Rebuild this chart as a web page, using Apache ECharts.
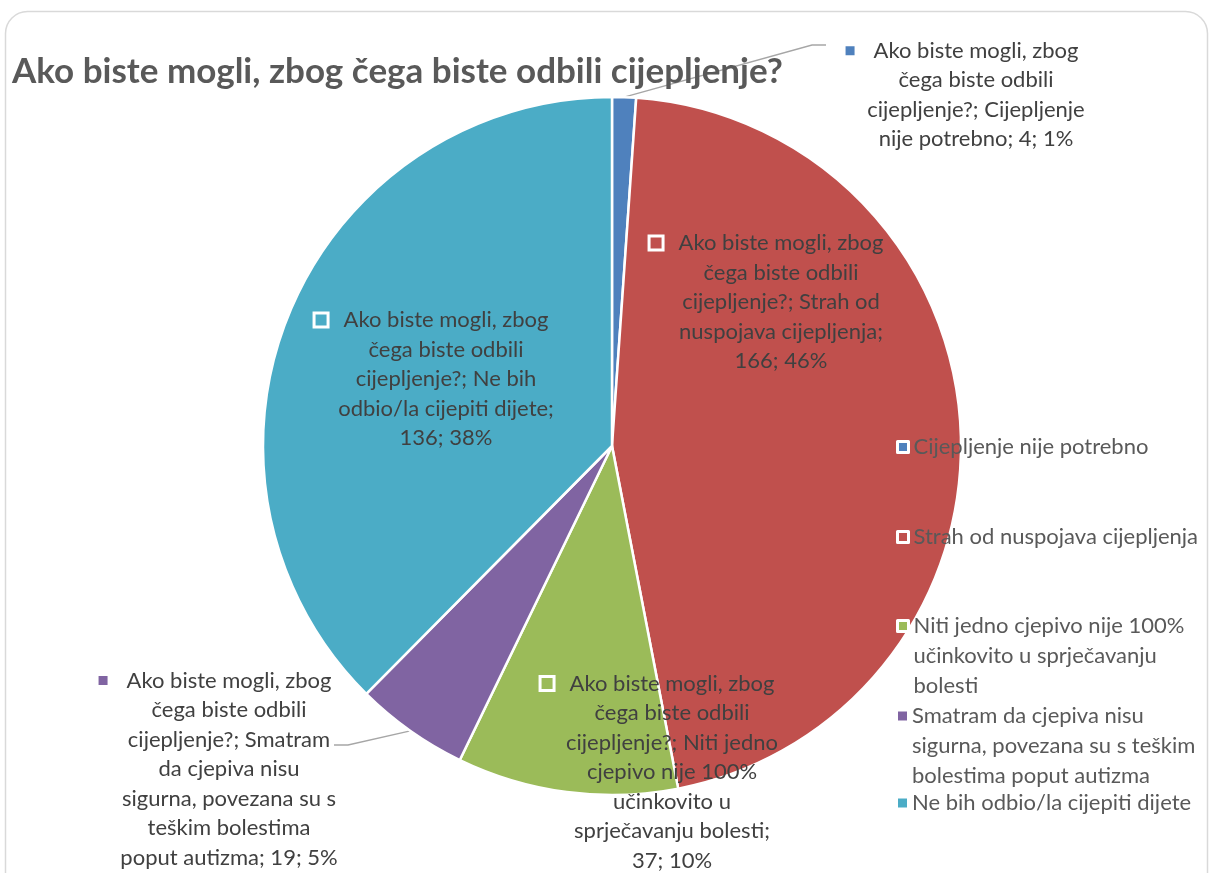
<!DOCTYPE html>
<html>
<head>
<meta charset="utf-8">
<script src="https://cdn.jsdelivr.net/npm/echarts@6/dist/echarts.min.js"></script>
<style>
  html, body { margin: 0; padding: 0; background: #ffffff; }
  #chart { width: 1213px; height: 873px; }
</style>
</head>
<body>
<div id="chart"></div>
<script>
// Survey question and answers
const questionTitle = 'Ako biste mogli, zbog čega biste odbili cijepljenje?';
const reasons = [
  'Cijepljenje nije potrebno',
  'Strah od nuspojava cijepljenja',
  'Niti jedno cjepivo nije 100% učinkovito u sprječavanju bolesti',
  'Smatram da cjepiva nisu sigurna, povezana su s teškim bolestima poput autizma',
  'Ne bih odbio/la cijepiti dijete'
];
const counts = [4, 166, 37, 19, 136];
const sliceColors = ['#4F81BD', '#C0504D', '#9BBB59', '#8064A2', '#4BACC6'];

// How many words go on each line of the wrapped slice labels / legend entries
const labelWordsPerLine = [
  [4, 3, 2, 4],
  [4, 3, 3, 2, 2],
  [4, 3, 3, 3, 2, 2, 2],
  [4, 3, 2, 3, 4, 2, 4],
  [4, 3, 3, 3, 2]
];
const legendWordsPerLine = [null, null, [5, 3, 1], [4, 5, 3], null];

const FONT = 'Lato';
const LINE_H = 29.5;

function wrapWords(text, perLine) {
  if (!perLine) return [text];
  const words = text.split(' ');
  const lines = [];
  let k = 0;
  perLine.forEach(function (n) {
    if (k < words.length) lines.push(words.slice(k, k + n).join(' '));
    k += n;
  });
  if (k < words.length) lines[lines.length - 1] += ' ' + words.slice(k).join(' ');
  return lines;
}

// Label block centres and callout guide bends
const labelCentres = [[976, 95], [781, 302], [672, 772], [229, 769], [446, 379]];
const calloutBends = {
  0: [[812, 45], [826, 45]],
  3: [[348, 745], [334, 745]]
};

const richStyles = {
  t: { fontFamily: FONT, fontSize: 22, lineHeight: LINE_H, color: '#404040', align: 'center' }
};
sliceColors.forEach(function (c, i) {
  // boxed marker for labels sitting on a slice, plain one for callouts
  richStyles['m' + i] = calloutBends[i]
    ? { width: 9, height: 9, backgroundColor: c, align: 'center' }
    : { width: 11, height: 11, backgroundColor: c, borderColor: '#ffffff', borderWidth: 3, align: 'center' };
  richStyles['g' + i] = { width: calloutBends[i] ? 19 : 17, align: 'center' };
  richStyles['p' + i] = { width: 28, align: 'center' };
});

const pieData = reasons.map(function (name, i) {
  const callout = !!calloutBends[i];
  return {
    name: name,
    value: counts[i],
    itemStyle: { color: sliceColors[i] },
    label: { position: callout ? 'outside' : 'inside' },
    labelLine: { show: callout }
  };
});

// Legend entries placed individually (first-line centre y, boxed marker or not).
// Multi-line entries get leading blank lines so the marker sits on the first line.
const legendSlots = [
  { y: 447, boxed: true },
  { y: 537, boxed: true },
  { y: 626, boxed: true },
  { y: 716, boxed: false },
  { y: 803, boxed: false }
];
const LEG_LH = 30;
const legends = legendSlots.map(function (slot, i) {
  const nLines = wrapWords(reasons[i], legendWordsPerLine[i]).length;
  const boxH = (2 * nLines - 1) * LEG_LH;
  const mk = slot.boxed ? 11 : 9;
  return {
    data: [{
      name: reasons[i],
      itemStyle: slot.boxed ? { borderColor: '#ffffff', borderWidth: 3 } : { borderWidth: 0 }
    }],
    orient: 'vertical',
    left: 912 - 5 - mk,
    top: slot.y - boxH / 2,
    padding: 0,
    itemGap: 0,
    itemWidth: mk,
    itemHeight: mk,
    icon: 'rect',
    selectedMode: false,
    formatter: function (name) {
      const lines = wrapWords(name, legendWordsPerLine[reasons.indexOf(name)]);
      const lead = new Array(lines.length).join('\n');
      return lead + lines.join('\n');
    },
    textStyle: {
      fontFamily: FONT,
      fontSize: 22,
      color: '#595959',
      lineHeight: LEG_LH
    }
  };
});

const chart = echarts.init(document.getElementById('chart'), null, { renderer: 'canvas' });

chart.setOption({
  animation: false,
  backgroundColor: '#ffffff',
  graphic: [{
    type: 'rect',
    silent: true,
    shape: { x: 5.5, y: 11.5, width: 1202, height: 920, r: 22 },
    style: { fill: 'none', stroke: '#D9D9D9', lineWidth: 1.5 }
  }],
  title: {
    text: questionTitle,
    left: 12,
    top: 54,
    padding: 0,
    textStyle: { fontFamily: FONT, fontWeight: 'bold', fontSize: 35, color: '#595959' }
  },
  legend: legends,
  series: [{
    type: 'pie',
    name: questionTitle,
    center: [612, 446],
    radius: 349,
    startAngle: 90,
    clockwise: true,
    percentPrecision: 0,
    avoidLabelOverlap: false,
    itemStyle: { borderColor: '#ffffff', borderWidth: 2.5 },
    label: {
      show: true,
      width: 330,
      overflow: 'none',
      color: '#404040',
      fontFamily: FONT,
      fontSize: 22,
      lineHeight: LINE_H,
      align: 'center',
      rich: richStyles,
      formatter: function (p) {
        const i = p.dataIndex;
        const text = p.seriesName + '; ' + p.name + '; ' + p.value + '; ' + p.percent + '%';
        const lines = wrapWords(text, labelWordsPerLine[i]);
        return lines.map(function (ln, k) {
          return k === 0
            ? '{m' + i + '| }{g' + i + '| }{t|' + ln + '}{p' + i + '| }'
            : '{t|' + ln + '}';
        }).join('\n');
      }
    },
    labelLine: {
      show: false,
      length: 15,
      length2: 15,
      lineStyle: { color: '#A6A6A6', width: 1.3 }
    },
    labelLayout: function (params) {
      const i = params.dataIndex;
      const out = {
        x: labelCentres[i][0],
        y: labelCentres[i][1],
        align: 'center',
        verticalAlign: 'middle'
      };
      const bends = calloutBends[i];
      if (bends && params.labelLinePoints) {
        out.labelLinePoints = [params.labelLinePoints[0], bends[0], bends[1]];
      }
      return out;
    },
    data: pieData
  }]
});
</script>
</body>
</html>
